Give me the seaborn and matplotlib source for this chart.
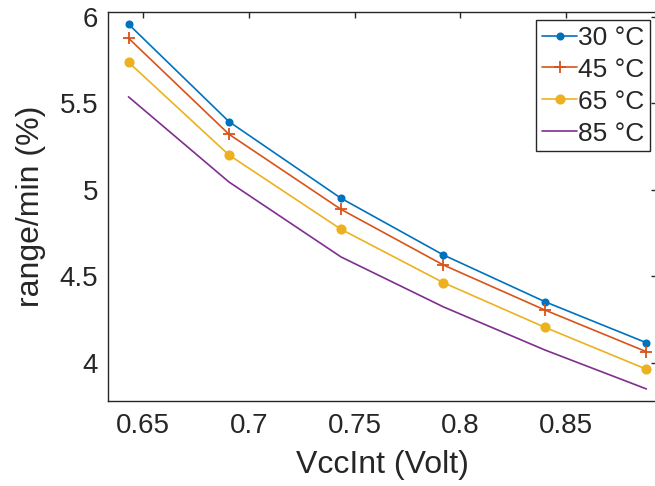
import matplotlib
matplotlib.use("Agg")
import matplotlib.pyplot as plt
import seaborn as sns
import pandas as pd

vcc = [0.643, 0.6905, 0.7435, 0.792, 0.840, 0.888]
r30 = [5.958, 5.395, 4.952, 4.624, 4.354, 4.117]
r45 = [5.877, 5.322, 4.888, 4.566, 4.306, 4.065]
r65 = [5.738, 5.202, 4.773, 4.464, 4.206, 3.964]
r85 = [5.538, 5.046, 4.613, 4.324, 4.075, 3.850]
labels = ["30 °C", "45 °C", "65 °C", "85 °C"]
xticks = [0.65, 0.7, 0.75, 0.8, 0.85]
yticks = [4, 4.5, 5, 5.5, 6]

sns.set_theme(style="white")
plt.rcParams["font.family"] = ["Liberation Sans", "DejaVu Sans"]

fig = plt.figure(figsize=(6.55, 4.86), dpi=100)
ax = fig.add_axes([0.1649, 0.1755, 0.8381, 0.8008])

colors = ["#0072BD", "#D95319", "#EDB120", "#7E2F8E"]
markers = ["o", "+", "o", None]
msizes = [4.5, 8, 6, 0]
series = [r30, r45, r65, r85]
for vals, lab, c, m, ms in zip(series, labels, colors, markers, msizes):
    df = pd.DataFrame({"x": vcc, "y": vals})
    kw = {}
    if m is not None:
        kw = dict(marker=m, markersize=ms, markeredgecolor=c, markerfacecolor=c,
                  markeredgewidth=1.3)
    sns.lineplot(data=df, x="x", y="y", ax=ax, color=c, linewidth=1.2,
                 label=lab, **kw)

ax.set_xlim(0.6333, 0.893)
ax.set_ylim(3.782, 6.031)
ax.set_xticks(xticks)
ax.set_xticklabels([f"{t:g}" for t in xticks])
ax.set_yticks(yticks)
ax.set_yticklabels([f"{t:g}" for t in yticks])
ax.tick_params(direction="in", length=4, width=1, top=True, right=True,
               labelsize=20, colors="#262626", pad=7)
ax.tick_params(axis="x", pad=9)
for s in ax.spines.values():
    s.set_color("#262626")
    s.set_linewidth(1.0)
ax.set_xlabel("VccInt (Volt)", fontsize=23, color="#262626", labelpad=8)
ax.set_ylabel("range/min (%)", fontsize=23, color="#262626", labelpad=10)

leg = ax.legend(loc="upper right", bbox_to_anchor=(650/655, 1 - 20/486),
                bbox_transform=fig.transFigure, borderaxespad=0,
                fontsize=19, frameon=True, fancybox=False, handlelength=1.35,
                handletextpad=0.02, borderpad=0.22, labelspacing=0.3)
leg.get_frame().set_edgecolor("#262626")
leg.get_frame().set_linewidth(1.0)
leg.get_frame().set_alpha(1)

fig.savefig("out.png", dpi=100)
